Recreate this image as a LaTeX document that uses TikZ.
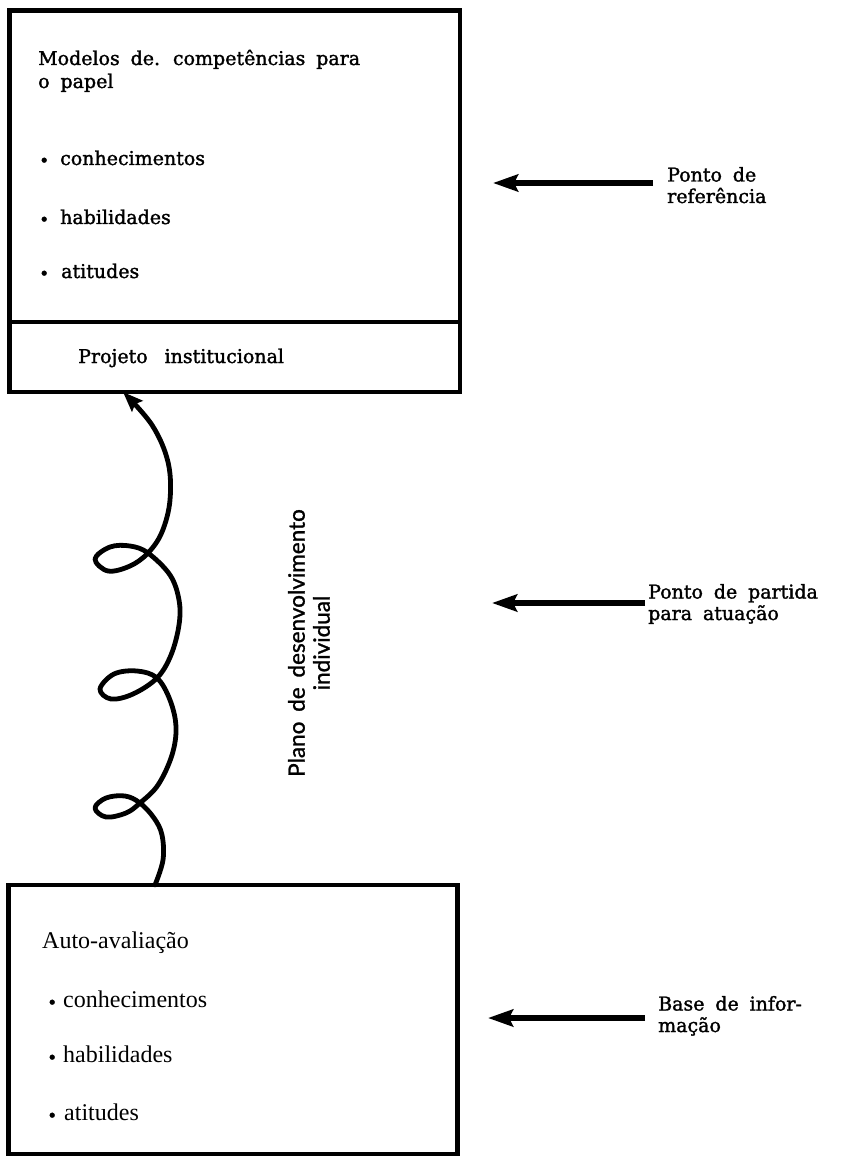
\documentclass[tikz,border=0pt]{standalone}
\usepackage{fontspec}
\newfontfamily\topfont[WordSpace=1.8,FakeBold=1.6]{DejaVu Serif}
\newfontfamily\botfont[WordSpace=1.3]{Liberation Serif}
\newfontfamily\sansfnt[WordSpace=1.7,FakeBold=1.2]{Lato}
\usetikzlibrary{arrows.meta,calc}
\newcommand\bul[1]{\makebox[#1][l]{\hspace{1pt}\raisebox{-1.5pt}{\topfont\fontsize{17}{17}\selectfont •}}}
\begin{document}
\begin{tikzpicture}[x=1pt,y=-1pt,
  box/.style={draw, line width=4.8pt, anchor=north west, inner sep=0pt, outer sep=0pt},
  txt/.style={anchor=base west, inner sep=0pt, font=\topfont\fontsize{19}{23}\selectfont},
  bot/.style={anchor=base west, inner sep=0pt, font=\botfont\fontsize{24}{27}\selectfont},
  lbl/.style={anchor=base west, inner sep=0pt, align=left, font=\topfont\fontsize{19}{21.5}\selectfont},
  pointer/.style={line width=5.5pt, -{Stealth[length=25pt,width=17pt,inset=4pt]}},
  coil/.style={line width=4.8pt, -{Stealth[length=20pt,width=15pt,inset=3pt]}, line join=round, line cap=round},
]
\useasboundingbox (0,0) rectangle (841,1158);
% boxes
\node[box, minimum width=450.5pt, minimum height=311.5pt] (modelos) at (9.5,10.5) {};
\node[box, minimum width=450.5pt, minimum height=70pt] (projeto) at (9.5,322) {};
\node[box, minimum width=449pt, minimum height=269pt] (auto) at (8.5,885) {};
% top box texts
\node[txt] (m1) at (38,65) {Modelos de. competências para};
\node[txt] (m2) at (38,88) {o papel};
\node[txt] (m3) at (38,165) {\bul{22pt}conhecimentos};
\node[txt] (m4) at (38,224) {\bul{22pt}habilidades};
\node[txt] (m5) at (38,278) {\bul{23pt}atitudes};
\node[txt] (p1) at (78,363) {Projeto\hspace{6pt} institucional};
% bottom box texts
\node[bot] (a1) at (42,948) {Auto-avaliação};
\node[bot] (a2) at (46,1007) {\bul{17pt}conhecimentos};
\node[bot] (a3) at (46,1062) {\bul{17pt}habilidades};
\node[bot] (a4) at (46,1120) {\bul{18pt}atitudes};
% rotated label
\node[rotate=90, align=center, inner sep=0pt, font=\sansfnt\fontsize{22.5}{25}\selectfont] (plano) at (309,643) {Plano de desenvolvimento\\individual};
% right labels and pointers
\node[lbl] (l1) at (667,203) {Ponto de\\referência};
\node[lbl] (l2) at (648,620) {Ponto de partida\\para atuação};
\node[lbl] (l3) at (658,1032) {Base de infor-\\mação};
\coordinate (t1) at (493,183);
\coordinate (t2) at (492,603);
\coordinate (t3) at (488,1018);
\draw[pointer] ($(l1.west |- t1)+(-14,0)$) -- (t1);
\draw[pointer] ($(l2.west |- t2)+(-3,0)$) -- (t2);
\draw[pointer] ($(l3.west |- t3)+(-13,0)$) -- (t3);
% coil connector
\coordinate (cs) at (155,0);
\coordinate (ce) at (123,0);
\draw[coil] plot[smooth, tension=0.6] coordinates {(auto.north -| cs) (163,860) (162,835) (154,818) (140,803) (125,796) (106,798) (95,808) (106,817) (126,813) (140,803) (158,785) (172,755) (176,727) (170,700) (157,678) (137,671) (114,674) (100,689) (111,699) (133,694) (157,678) (171,655) (179,625) (179,600) (170,575) (148,553) (130,546) (110,547) (95,559) (108,571) (130,566) (148,553) (162,532) (170,500) (168,462) (152,425) (projeto.south -| ce)};
\end{tikzpicture}
\end{document}
